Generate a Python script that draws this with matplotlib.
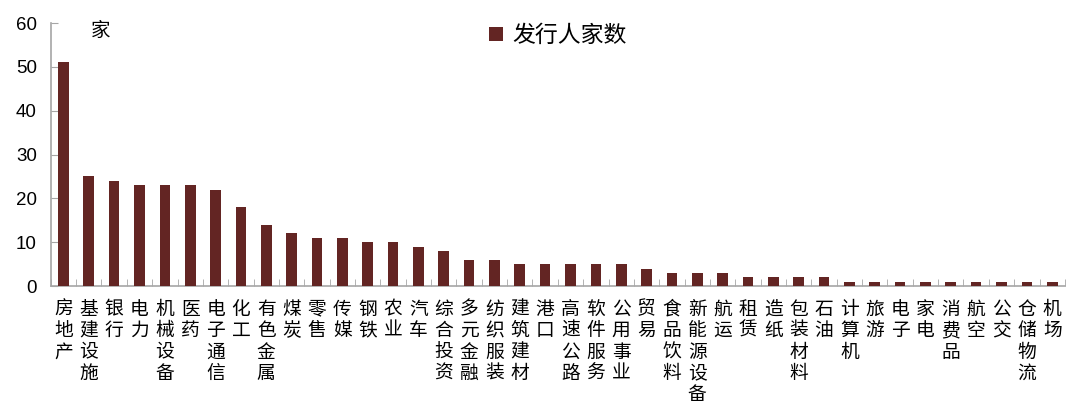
import matplotlib
matplotlib.use("Agg")
import matplotlib.pyplot as plt
import numpy as np
from matplotlib.ticker import FixedLocator

plt.rcParams['font.family'] = ['Noto Sans CJK SC', 'DejaVu Sans']

categories = ["房地产", "基建设施", "银行", "电力", "机械设备", "医药", "电子通信", "化工",
              "有色金属", "煤炭", "零售", "传媒", "钢铁", "农业", "汽车", "综合投资",
              "多元金融", "纺织服装", "建筑建材", "港口", "高速公路", "软件服务", "公用事业",
              "贸易", "食品饮料", "新能源设备", "航运", "租赁", "造纸", "包装材料", "石油",
              "计算机", "旅游", "电子", "家电", "消费品", "航空", "公交", "仓储物流", "机场"]
values = [51, 25, 24, 23, 23, 23, 22, 18, 14, 12, 11, 11, 10, 10, 9, 8, 6, 6, 5, 5, 5, 5, 5,
          4, 3, 3, 3, 2, 2, 2, 2, 1, 1, 1, 1, 1, 1, 1, 1, 1]
yticks = [0, 10, 20, 30, 40, 50, 60]
series_name = "发行人家数"
unit = "家"

color = "#632523"
axis_color = "#a6a6a6"

fig = plt.figure(figsize=(10.8, 4.11), dpi=100)
ax = fig.add_axes([0.047, 0.304, 0.939, 0.640])

x = np.arange(len(categories))
ax.bar(x, values, width=0.42, color=color, label=series_name, zorder=3)

ax.set_xlim(-0.5, len(categories) - 0.5)
ax.set_ylim(0, 60)
ax.set_yticks(yticks)
ax.set_yticklabels([str(v) for v in yticks], family=['Liberation Sans', 'DejaVu Sans'], fontsize=13.5)
ax.tick_params(axis='y', direction='in', length=5, color=axis_color, pad=10)

ax.set_xticks(x)
ax.set_xticklabels(['\n'.join(c) for c in categories], fontsize=13.5, linespacing=1.03)
ax.tick_params(axis='x', which='major', length=0, pad=9)
ax.xaxis.set_minor_locator(FixedLocator(np.arange(len(categories) + 1) - 0.5))
ax.tick_params(axis='x', which='minor', direction='in', length=5, color=axis_color)

for s in ['top', 'right']:
    ax.spines[s].set_visible(False)
for s in ['left', 'bottom']:
    ax.spines[s].set_color(axis_color)
    ax.spines[s].set_linewidth(1.2)

ax.text(0.04, 1.01, unit, transform=ax.transAxes, fontsize=14, va='top', ha='left')

leg = ax.legend(loc='upper center', bbox_to_anchor=(0.5, 1.075), frameon=False,
                fontsize=16.5, handlelength=0.6, handleheight=0.6, handletextpad=0.4)

fig.savefig("out.png", dpi=100)
